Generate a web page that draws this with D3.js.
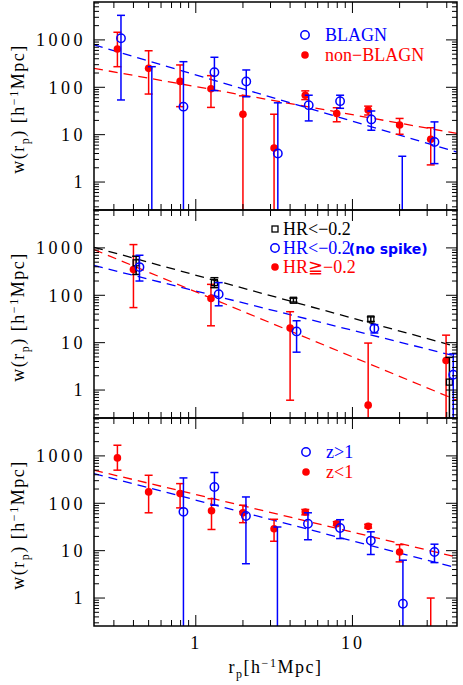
<!DOCTYPE html>
<html><head><meta charset="utf-8">
<script src="https://cdn.jsdelivr.net/npm/d3@7"></script>
<style>body{margin:0;background:#fff}</style></head>
<body><svg id="c" width="463" height="685"></svg>
<script>
// ---- data (r_p, w, lower, upper); null w = point off-plot, lower 0 = bar to bottom
const p1_blagn_r  = [0.333,0.524,0.834,1.315,2.1,3.34,5.26,8.34,13.2,20.8,33.4];
const p1_blagn_w  = [1085,null,39,207,132,4,42,51,21,null,7];
const p1_blagn_lo = [54,0,0,85,63,0,19.5,36,12.4,0,2.45];
const p1_blagn_hi = [3300,272,347,430,232,47,68,68,31.6,3.5,18.6];
const p1_non_r  = [0.316,0.5,0.794,1.25,2.0,3.16,5.0,7.94,12.6,20,31.6];
const p1_non_w  = [645,251,133,93,27,5.2,68,28,33,16,8];
const p1_non_lo = [272,72,39,37.6,0,0,55,18.7,26,10.2,2.3];
const p1_non_hi = [1450,590,296,176,66,27,84,37,40,22,14];
const p1_fit_blagn = [783,4.3];
const p1_fit_non = [251,10.6];

const p2_soft_r  = [0.416,1.315,4.2,13.1,41.6];
const p2_soft_w  = [484,185,78.5,31.6,1.47];
const p2_soft_lo = [275,145,72,28,0];
const p2_soft_hi = [668,235,87,35,4.9];
const p2_ns_r  = [0.437,1.4,4.4,13.8,44];
const p2_ns_w  = [393,105,17.3,20,2.1];
const p2_ns_lo = [200,60,6.3,16,0];
const p2_ns_hi = [700,185,29,24,5.8];
const p2_hard_r  = [0.4,1.25,4.0,12.6,39.6];
const p2_hard_w  = [351,86,20.4,0.48,4.2];
const p2_hard_lo = [55,22.7,0.61,0,0];
const p2_hard_hi = [1175,170,45,9.8,14.4];
const p2_fit_soft = [1030,8.2];
const p2_fit_ns = [426,5.1];
const p2_fit_hard = [923,0.61];

const p3_hi_r  = [0.834,1.315,2.09,3.32,5.2,8.34,13.1,21,33.4];
const p3_hi_w  = [66,221,54,null,37,30,16.3,0.76,9.4];
const p3_hi_lo = [0,91,5.3,0,17,18,8.3,0,5.6];
const p3_hi_hi = [343,446,136,31.6,63,45,25,6.3,13.7];
const p3_lo_r  = [0.316,0.5,0.794,1.26,2.0,3.16,5.0,7.94,12.6,20,31.6];
const p3_lo_w  = [907,174,160,69.5,63,29,65.6,37,32.6,9.4,null];
const p3_lo_lo = [500,63,80,28,39,15.8,57,34,30,5.8,0];
const p3_lo_hi = [1680,390,260,125,91,46,74,41,36,13.4,1.0];
const p3_fit_lo = [500,7.3];
const p3_fit_hi = [424,4.3];

const yTicks = [1,10,100,1000];
const xTicks = [1,10];

// ---- layout
const L=94,R=457,panelTops=[2,210,418],PH=208;
const svg=d3.select("#c");
const x=d3.scaleLog().domain([0.224,46.5]).range([L,R]);
const BLUE="#0000ff",RED="#ff0000",BLACK="#000";
const serif="'Liberation Serif','DejaVu Serif',serif";

function series(r,w,lo,hi){return r.map((v,i)=>({r:v,w:w[i],lo:lo[i],hi:hi[i]}));}

const panels=[
 {s:[{d:series(p1_non_r,p1_non_w,p1_non_lo,p1_non_hi),c:RED,m:"fill"},
     {d:series(p1_blagn_r,p1_blagn_w,p1_blagn_lo,p1_blagn_hi),c:BLUE,m:"open"}],
  fits:[{f:p1_fit_non,c:RED},{f:p1_fit_blagn,c:BLUE}],
  leg:[{m:"open",c:BLUE,t:"BLAGN",y:35},{m:"fill",c:RED,t:"non\u2212BLAGN",y:55}],legX:305},
 {s:[{d:series(p2_hard_r,p2_hard_w,p2_hard_lo,p2_hard_hi),c:RED,m:"fill"},
     {d:series(p2_soft_r,p2_soft_w,p2_soft_lo,p2_soft_hi),c:BLACK,m:"square"},
     {d:series(p2_ns_r,p2_ns_w,p2_ns_lo,p2_ns_hi),c:BLUE,m:"open"}],
  fits:[{f:p2_fit_soft,c:BLACK},{f:p2_fit_ns,c:BLUE},{f:p2_fit_hard,c:RED}],
  leg:[{m:"square",c:BLACK,t:"HR<\u22120.2",y:229},{m:"open",c:BLUE,t:"HR<\u22120.2",y:248,extra:"(no spike)"},{m:"fill",c:RED,t:"HR\u2267\u22120.2",y:267}],legX:275},
 {s:[{d:series(p3_lo_r,p3_lo_w,p3_lo_lo,p3_lo_hi),c:RED,m:"fill"},
     {d:series(p3_hi_r,p3_hi_w,p3_hi_lo,p3_hi_hi),c:BLUE,m:"open"}],
  fits:[{f:p3_fit_lo,c:RED},{f:p3_fit_hi,c:BLUE}],
  leg:[{m:"open",c:BLUE,t:"z>1",y:452},{m:"fill",c:RED,t:"z<1",y:472}],legX:306}
];

function marker(g,m,c,cx,cy){
  if(m==="open") g.append("circle").attr("cx",cx).attr("cy",cy).attr("r",4.2).attr("fill","none").attr("stroke",c).attr("stroke-width",1.5);
  else if(m==="fill") g.append("circle").attr("cx",cx).attr("cy",cy).attr("r",3.8).attr("fill",c);
  else g.append("rect").attr("x",cx-3).attr("y",cy-3).attr("width",6).attr("height",6).attr("fill","none").attr("stroke",c).attr("stroke-width",1.3);
}

panels.forEach((p,pi)=>{
  const top=panelTops[pi],bot=top+PH;
  const y=d3.scaleLog().domain([0.257,6310]).range([bot,top]);
  const cid="clip"+pi;
  svg.append("clipPath").attr("id",cid).append("rect").attr("x",L).attr("y",top).attr("width",R-L).attr("height",PH);
  const g=svg.append("g").attr("clip-path",`url(#${cid})`);
  p.fits.forEach(f=>{
    g.append("line").attr("x1",x(0.224)).attr("x2",x(46.5)).attr("y1",y(f.f[0])).attr("y2",y(f.f[1]))
     .attr("stroke",f.c).attr("stroke-width",1.3).attr("stroke-dasharray","9,6");
  });
  p.s.forEach(s=>{
    s.d.forEach(d=>{
      const cx=x(d.r);
      const yt=y(d.hi), yb=d.lo>0?y(d.lo):bot+5;
      g.append("line").attr("x1",cx).attr("x2",cx).attr("y1",yt).attr("y2",yb).attr("stroke",s.c).attr("stroke-width",1.5);
      g.append("line").attr("x1",cx-4).attr("x2",cx+4).attr("y1",yt).attr("y2",yt).attr("stroke",s.c).attr("stroke-width",1.5);
      if(d.lo>0) g.append("line").attr("x1",cx-4).attr("x2",cx+4).attr("y1",yb).attr("y2",yb).attr("stroke",s.c).attr("stroke-width",1.5);
      if(d.w!=null) marker(g,s.m,s.c,cx,y(d.w));
    });
  });
  svg.append("rect").attr("x",L).attr("y",top).attr("width",R-L).attr("height",PH).attr("fill","none").attr("stroke","#000").attr("stroke-width",1.5);
  const yl=d3.axisLeft(y).tickValues(yTicks).tickSize(0).tickFormat(d3.format("d"));
  svg.append("g").attr("transform",`translate(${L-5},0)`).call(yl).call(a=>a.select(".domain").remove())
    .selectAll("text").attr("font-family",serif).attr("font-size",18).attr("letter-spacing",3.5).attr("fill","#000");
  const yminor=[];for(let e=-1;e<4;e++)for(let k=1;k<10;k++){const v=k*Math.pow(10,e);if(v>0.257&&v<6310)yminor.push(v);}
  yminor.forEach(v=>{const len=yTicks.includes(v)?11:5;
    svg.append("line").attr("x1",L).attr("x2",L+len).attr("y1",y(v)).attr("y2",y(v)).attr("stroke","#000").attr("stroke-width",1);
    svg.append("line").attr("x1",R).attr("x2",R-len).attr("y1",y(v)).attr("y2",y(v)).attr("stroke","#000").attr("stroke-width",1);});
  const xminor=[];for(let e=-1;e<2;e++)for(let k=1;k<10;k++){const v=k*Math.pow(10,e);if(v>0.224&&v<46.5)xminor.push(v);}
  xminor.forEach(v=>{const len=xTicks.includes(v)?11:6;
    svg.append("line").attr("x1",x(v)).attr("x2",x(v)).attr("y1",bot).attr("y2",bot-len).attr("stroke","#000").attr("stroke-width",1);
    svg.append("line").attr("x1",x(v)).attr("x2",x(v)).attr("y1",top).attr("y2",top+len).attr("stroke","#000").attr("stroke-width",1);});
  const yt=svg.append("text").attr("transform",`translate(24,${top+PH/2+3}) rotate(-90)`).attr("text-anchor","middle")
    .attr("font-family",serif).attr("font-size",18).attr("letter-spacing",1.5);
  yt.append("tspan").text("w(r");
  yt.append("tspan").attr("font-size",12).attr("dy",5).text("p");
  yt.append("tspan").attr("dy",-5).text(")  [h");
  yt.append("tspan").attr("font-size",12).attr("dy",-6).text("\u22121");
  yt.append("tspan").attr("dy",6).text("Mpc]");
  p.leg.forEach(l=>{
    marker(svg,l.m,l.c,p.legX,l.y);
    const t=svg.append("text").attr("x",p.legX+ (pi===1?8:20)).attr("y",l.y+6).attr("font-family",serif).attr("font-size",18).attr("fill",l.c).text(l.t);
    if(l.extra) t.append("tspan").attr("font-family","'DejaVu Sans',sans-serif").attr("font-size",14).attr("font-weight","bold").attr("dx",-2).text(l.extra);
  });
});
const xa=d3.axisBottom(x).tickValues(xTicks).tickSize(0).tickFormat(d3.format("d"));
svg.append("g").attr("transform",`translate(0,${626+7})`).call(xa).call(a=>a.select(".domain").remove())
  .selectAll("text").attr("font-family",serif).attr("font-size",18).attr("letter-spacing",3).attr("fill","#000");
const xt=svg.append("text").attr("x",(L+R)/2).attr("y",673).attr("text-anchor","middle").attr("font-family",serif).attr("font-size",18).attr("letter-spacing",1.5);
xt.append("tspan").text("r");
xt.append("tspan").attr("font-size",12).attr("dy",5).text("p");
xt.append("tspan").attr("dy",-5).text("[h");
xt.append("tspan").attr("font-size",12).attr("dy",-6).text("\u22121");
xt.append("tspan").attr("dy",6).text("Mpc]");
</script></body></html>
